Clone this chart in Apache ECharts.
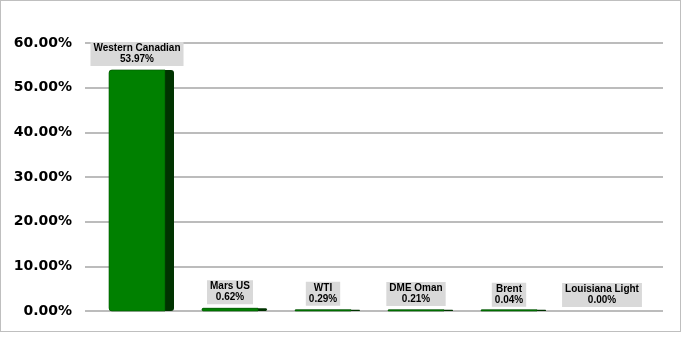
<!DOCTYPE html>
<html><head><meta charset="utf-8">
<script src="https://cdn.jsdelivr.net/npm/echarts@6/dist/echarts.min.js"></script>
<style>
html,body{margin:0;padding:0;background:#fff;}
#frame{position:absolute;left:0;top:0;width:681px;height:332px;border:1px solid #bfbfbf;box-sizing:border-box;}
#main{position:absolute;left:0;top:0;width:681px;height:341px;}
</style></head>
<body>
<div id="frame"></div>
<div id="main"></div>
<script>
var categories = ["Western Canadian", "Mars US", "WTI", "DME Oman", "Brent", "Louisiana Light"];
var values = [53.97, 0.62, 0.29, 0.21, 0.04, 0.00];
var yTicks = [0, 10, 20, 30, 40, 50, 60];

var chart = echarts.init(document.getElementById('main'), null, {renderer: 'canvas'});
var option = {
  animation: false,
  grid: [
    {left: 85, right: 18, top: 43, bottom: 30},
    {left: 95, right: 28, top: 43, bottom: 30}
  ],
  xAxis: [
    {type: 'category', gridIndex: 0, data: categories, show: false},
    {type: 'category', gridIndex: 1, data: categories, show: false}
  ],
  yAxis: [
    {type: 'value', gridIndex: 0, min: yTicks[0], max: yTicks[yTicks.length-1], interval: 10,
     axisLine: {show: false}, axisTick: {show: false},
     splitLine: {lineStyle: {color: '#a6a6a6', width: 1.5}},
     axisLabel: {margin: 13, fontFamily: 'DejaVu Sans', fontWeight: 'bold', fontSize: 14, color: '#000',
       formatter: function (v) { return v.toFixed(2) + '%'; }}},
    {type: 'value', gridIndex: 1, min: yTicks[0], max: yTicks[yTicks.length-1], interval: 10, show: false, splitLine: {show: false}}
  ],
  series: [{
    type: 'custom',
    xAxisIndex: 1, yAxisIndex: 1,
    data: values.map(function (v, i) { return [i, v]; }),
    renderItem: function (params, api) {
      var idx = api.value(0), val = api.value(1);
      var top = api.coord([idx, val]);
      var base = api.coord([idx, 0]);
      var band = api.size([1, 0])[0];
      var total = band * 65 / 93;
      var frontW = band * 56 / 93;
      var x0 = top[0] - total / 2;
      var h = base[1] - top[1];
      var children = [];
      if (h > 0.05) {
        var hh = Math.max(h, 1.2);
        var r = Math.min(3, hh / 2);
        children.push({type: 'rect', shape: {x: x0, y: base[1] - hh, width: total, height: hh, r: r},
          style: {fill: '#003300'}});
        children.push({type: 'rect', shape: {x: x0, y: base[1] - hh, width: frontW, height: hh, r: [r, 0, 0, r]},
          style: {fill: '#008000', stroke: '#005500', lineWidth: 0.6}});
      }
      var cx = x0 + frontW / 2;
      children.push({type: 'text', x: cx, y: top[1] - 4,
        style: {text: categories[idx] + '\n' + val.toFixed(2) + '%',
          fontFamily: 'Liberation Sans', fontWeight: 'bold', fontSize: 10, lineHeight: 11,
          fill: '#000', align: 'center', verticalAlign: 'bottom',
          backgroundColor: '#d9d9d9', padding: [1, 3, 1, 3]}});
      return {type: 'group', children: children};
    }
  }]
};
chart.setOption(option);
</script>
</body></html>
